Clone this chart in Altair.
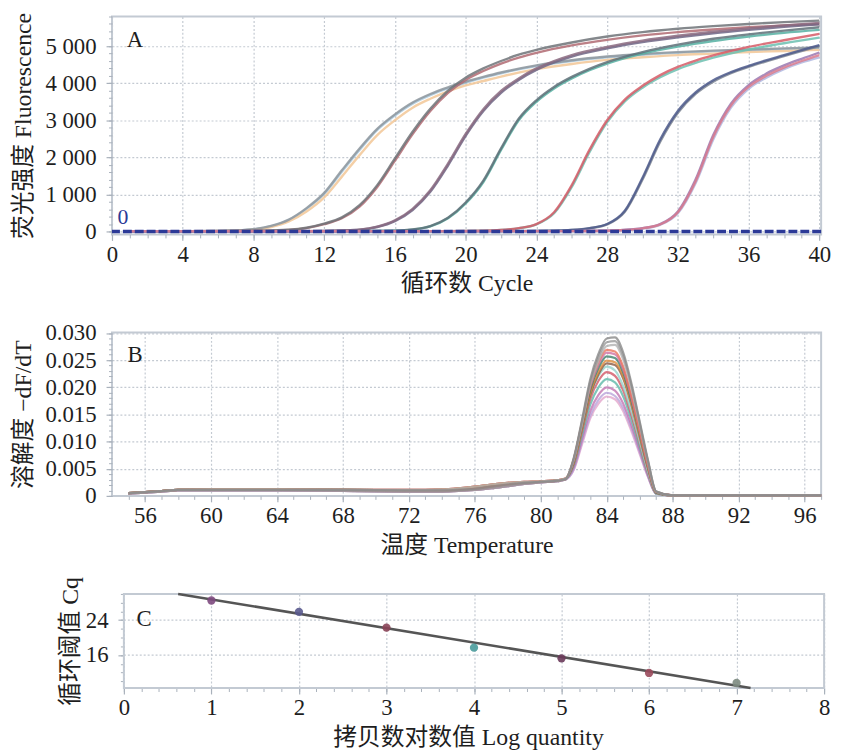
import altair as alt
import pandas as pd

# ======================= DATA =======================
# ---- Panel A : amplification curves (fluorescence vs cycle) ----
A_G1_CYCLES = [1, 5, 7, 8, 9, 10, 11, 12, 13, 14, 15, 16, 17, 18, 19, 20, 21, 22, 24, 26, 28, 30, 32, 34, 36, 38, 40]
A_G1_LIGHTBLUE = [5, 8, 25, 55, 140, 310, 610, 1010, 1610, 2200, 2740, 3130, 3450, 3680, 3860, 4010, 4150, 4270, 4460, 4600, 4700, 4770, 4820, 4860, 4890, 4920, 4950]
A_G1_GREY = [5, 8, 28, 60, 150, 320, 630, 1040, 1650, 2240, 2770, 3160, 3480, 3710, 3890, 4040, 4170, 4290, 4480, 4620, 4720, 4790, 4840, 4880, 4910, 4940, 4970]
A_G1_ORANGE = [5, 8, 20, 45, 120, 270, 540, 920, 1480, 2060, 2600, 3000, 3340, 3580, 3780, 3940, 4060, 4180, 4380, 4520, 4630, 4700, 4760, 4800, 4840, 4870, 4900]

A_G2_CYCLES = [1, 8, 10, 11, 12, 13, 14, 15, 16, 17, 18, 19, 20, 21, 22, 23, 24, 26, 28, 30, 32, 34, 36, 38, 40]
A_G2_ROSE = [5, 12, 40, 90, 195, 355, 670, 1200, 1910, 2625, 3250, 3740, 4090, 4330, 4530, 4690, 4820, 5020, 5170, 5290, 5380, 5450, 5510, 5560, 5600]
A_G2_DARK = [5, 12, 45, 100, 210, 380, 710, 1250, 1970, 2690, 3310, 3800, 4150, 4400, 4600, 4770, 4900, 5100, 5260, 5380, 5470, 5540, 5600, 5650, 5690]

A_G3_CYCLES = [1, 11, 13, 14, 15, 16, 17, 18, 19, 20, 21, 22, 23, 24, 25, 26, 28, 30, 32, 34, 36, 38, 40]
A_G3_PURPLE = [5, 10, 25, 45, 120, 280, 580, 1070, 1780, 2580, 3250, 3740, 4090, 4360, 4560, 4720, 4940, 5110, 5240, 5350, 5440, 5520, 5590]
A_G3_MAUVE = [5, 10, 28, 50, 130, 300, 610, 1110, 1830, 2630, 3300, 3790, 4130, 4400, 4600, 4760, 4980, 5150, 5280, 5390, 5480, 5560, 5630]

A_G4_CYCLES = [1, 14, 16, 17, 18, 19, 20, 21, 22, 23, 24, 25, 26, 27, 28, 30, 32, 34, 36, 38, 40]
A_G4_TEAL = [5, 10, 20, 50, 135, 355, 755, 1335, 2200, 3000, 3500, 3860, 4130, 4350, 4530, 4800, 4990, 5140, 5260, 5360, 5440]
A_G4_SLATE = [5, 10, 22, 55, 145, 370, 780, 1370, 2240, 3040, 3540, 3900, 4170, 4390, 4570, 4840, 5040, 5200, 5320, 5420, 5510]

A_G5_CYCLES = [1, 19, 21, 22, 23, 24, 25, 26, 27, 28, 29, 30, 31, 32, 33, 34, 36, 38, 40]
A_G5_RED = [5, 10, 20, 40, 90, 200, 520, 1250, 2200, 3000, 3560, 3930, 4220, 4440, 4610, 4750, 4980, 5160, 5330]
A_G5_TEAL = [5, 10, 20, 38, 85, 190, 490, 1200, 2140, 2950, 3510, 3880, 4160, 4380, 4550, 4690, 4910, 5080, 5230]

A_G6_CYCLES = [1, 23, 25, 26, 27, 28, 29, 30, 31, 32, 33, 34, 35, 36, 38, 40]
A_G6_NAVY = [5, 10, 20, 40, 90, 200, 560, 1450, 2480, 3250, 3750, 4080, 4300, 4470, 4760, 5030]
A_G6_GREY = [5, 10, 20, 38, 85, 190, 530, 1400, 2420, 3200, 3710, 4040, 4270, 4440, 4730, 5000]

A_G7_CYCLES = [1, 26, 28, 29, 30, 31, 32, 33, 34, 35, 36, 37, 38, 39, 40]
A_G7_PINK = [5, 10, 20, 40, 85, 190, 520, 1350, 2550, 3400, 3900, 4200, 4420, 4600, 4760]
A_G7_LAVENDER = [5, 10, 20, 38, 80, 180, 490, 1300, 2480, 3340, 3850, 4150, 4380, 4560, 4700]
A_G7_PURPLE = [5, 10, 20, 42, 90, 200, 540, 1400, 2600, 3450, 3950, 4260, 4480, 4660, 4830]

A_THRESHOLD = [0]
A_X_TICKS = [0, 4, 8, 12, 16, 20, 24, 28, 32, 36, 40]
A_Y_TICKS = [0, 1000, 2000, 3000, 4000, 5000]

# ---- Panel B : melt curves (-dF/dT vs temperature) ----
B_TEMP = [55, 56, 57, 58, 60, 64, 68, 72, 74, 75, 76, 77, 78, 79, 80, 81, 81.5,
          82, 82.5, 83, 83.5, 84, 84.5, 85, 85.5, 86, 86.5, 87, 88, 97]
B_BASE_1 = [0.0005, 0.0007, 0.0009, 0.0011, 0.0011, 0.0011, 0.0011, 0.0010, 0.0010, 0.0011, 0.0013, 0.0017, 0.0021, 0.0024, 0.0026, 0.0028, 0.0031]
B_BASE_2 = [0.0004, 0.0006, 0.0008, 0.0010, 0.0010, 0.0010, 0.0009, 0.0008, 0.0008, 0.0009, 0.0011, 0.0014, 0.0018, 0.0022, 0.0025, 0.0027, 0.0030]
B_BASE_3 = [0.0005, 0.0007, 0.0009, 0.0011, 0.0012, 0.0012, 0.0011, 0.0011, 0.0012, 0.0014, 0.0017, 0.0021, 0.0024, 0.0026, 0.0027, 0.0029, 0.0032]
B_TAIL = [0.0001, 0.0001]
B_PEAK_GREY1 = [0.0070, 0.0140, 0.0215, 0.0262, 0.0290, 0.0292, 0.0264, 0.0207, 0.0137, 0.0066, 0.0008]
B_PEAK_GREY2 = [0.0068, 0.0137, 0.0210, 0.0256, 0.0283, 0.0285, 0.0258, 0.0202, 0.0134, 0.0064, 0.0008]
B_PEAK_GREY3 = [0.0067, 0.0133, 0.0205, 0.0249, 0.0276, 0.0278, 0.0251, 0.0197, 0.0130, 0.0063, 0.0008]
B_PEAK_SALMON = [0.0068, 0.0135, 0.0205, 0.0247, 0.0269, 0.0266, 0.0238, 0.0184, 0.0120, 0.0057, 0.0007]
B_PEAK_PINK = [0.0066, 0.0133, 0.0201, 0.0242, 0.0264, 0.0261, 0.0233, 0.0180, 0.0118, 0.0056, 0.0007]
B_PEAK_GREEN = [0.0065, 0.0129, 0.0196, 0.0236, 0.0257, 0.0254, 0.0227, 0.0175, 0.0115, 0.0054, 0.0006]
B_PEAK_ORANGE = [0.0063, 0.0125, 0.0190, 0.0229, 0.0249, 0.0246, 0.0220, 0.0170, 0.0111, 0.0053, 0.0006]
B_PEAK_BROWN = [0.0061, 0.0123, 0.0186, 0.0224, 0.0244, 0.0241, 0.0216, 0.0167, 0.0109, 0.0051, 0.0006]
B_PEAK_LTEAL = [0.0062, 0.0124, 0.0186, 0.0221, 0.0238, 0.0231, 0.0202, 0.0155, 0.0100, 0.0045, 0.0005]
B_PEAK_RED = [0.0059, 0.0119, 0.0178, 0.0212, 0.0228, 0.0221, 0.0194, 0.0148, 0.0096, 0.0043, 0.0005]
B_PEAK_TEAL = [0.0056, 0.0112, 0.0168, 0.0200, 0.0215, 0.0209, 0.0183, 0.0140, 0.0090, 0.0041, 0.0004]
B_PEAK_PURPLE = [0.0052, 0.0104, 0.0156, 0.0186, 0.0200, 0.0194, 0.0170, 0.0130, 0.0084, 0.0038, 0.0004]
B_PEAK_LAVENDER = [0.0049, 0.0099, 0.0148, 0.0177, 0.0190, 0.0184, 0.0162, 0.0124, 0.0080, 0.0036, 0.0004]
B_PEAK_LPINK = [0.0048, 0.0095, 0.0143, 0.0170, 0.0183, 0.0178, 0.0156, 0.0119, 0.0077, 0.0035, 0.0004]
B_X_TICKS = [56, 60, 64, 68, 72, 76, 80, 84, 88, 92, 96]
B_Y_TICKS = [0, 0.005, 0.010, 0.015, 0.020, 0.025, 0.030]

# ---- Panel C : standard curve ----
C_LOGQ = [1, 2, 3, 4, 5, 6, 7]
C_CQ = [28.5, 25.9, 22.3, 17.7, 15.25, 11.9, 9.6]
C_FIT_X = [0.62, 7.16]
C_FIT_Y = [30.0, 8.45]
C_X_TICKS = [0, 1, 2, 3, 4, 5, 6, 7, 8]
C_Y_TICKS = [16, 24]

# axis ranges
A_X_DOMAIN = [0, 40.1]
A_Y_DOMAIN = [-80, 5800]
B_X_DOMAIN = [54, 97]
B_Y_DOMAIN = [0, 0.0301]
C_X_DOMAIN = [-0.136, 8]
C_Y_DOMAIN = [8.45, 30]
C_FRAME_X = [0, 8]

# ======================= STYLE =======================
SERIF = "'Liberation Serif', 'Times New Roman', 'Noto Sans CJK SC', serif"
LABEL_FONT = "Liberation Serif"
TEXT = "#1e1e1e"
GRID = "#c4cad2"
TICK = "#a9b1bb"
FRAME = "#c3cad3"
BLUE = "#2c3a97"
TICK_FS = 23
TITLE_FS = 24

A_CURVES = [
    ("g1-lightblue", A_G1_CYCLES, A_G1_LIGHTBLUE, "#a9c8dc"),
    ("g1-orange", A_G1_CYCLES, A_G1_ORANGE, "#f2c796"),
    ("g1-grey", A_G1_CYCLES, A_G1_GREY, "#8e979e"),
    ("g2-rose", A_G2_CYCLES, A_G2_ROSE, "#b06a72"),
    ("g2-dark", A_G2_CYCLES, A_G2_DARK, "#6f7378"),
    ("g3-purple", A_G3_CYCLES, A_G3_PURPLE, "#6d6585"),
    ("g3-mauve", A_G3_CYCLES, A_G3_MAUVE, "#8a6a80"),
    ("g4-teal", A_G4_CYCLES, A_G4_TEAL, "#56b0a2"),
    ("g4-slate", A_G4_CYCLES, A_G4_SLATE, "#5e7078"),
    ("g5-teal", A_G5_CYCLES, A_G5_TEAL, "#6cc0b0"),
    ("g5-red", A_G5_CYCLES, A_G5_RED, "#d65a66"),
    ("g6-grey", A_G6_CYCLES, A_G6_GREY, "#7a8290"),
    ("g6-navy", A_G6_CYCLES, A_G6_NAVY, "#4e5a8c"),
    ("g7-lavender", A_G7_CYCLES, A_G7_LAVENDER, "#b0b8e0"),
    ("g7-purple", A_G7_CYCLES, A_G7_PURPLE, "#9a78b0"),
    ("g7-pink", A_G7_CYCLES, A_G7_PINK, "#d87a8e"),
]

B_CURVES = [
    ("lpink", B_BASE_2, B_PEAK_LPINK, "#e2a6cc"),
    ("lavender", B_BASE_2, B_PEAK_LAVENDER, "#b9a4da"),
    ("purple", B_BASE_3, B_PEAK_PURPLE, "#c274b2"),
    ("teal", B_BASE_1, B_PEAK_TEAL, "#5cb8a8"),
    ("red", B_BASE_3, B_PEAK_RED, "#d25866"),
    ("lteal", B_BASE_2, B_PEAK_LTEAL, "#94d2ca"),
    ("brown", B_BASE_1, B_PEAK_BROWN, "#8a5a44"),
    ("orange", B_BASE_3, B_PEAK_ORANGE, "#de8c3c"),
    ("green", B_BASE_1, B_PEAK_GREEN, "#3f7f6a"),
    ("pink", B_BASE_2, B_PEAK_PINK, "#d072a2"),
    ("salmon", B_BASE_1, B_PEAK_SALMON, "#ea745c"),
    ("grey3", B_BASE_3, B_PEAK_GREY3, "#b2b2b2"),
    ("grey2", B_BASE_2, B_PEAK_GREY2, "#9a9a9a"),
    ("grey1", B_BASE_1, B_PEAK_GREY1, "#8a8a8a"),
]

C_POINT_COLORS = ["#7e4a80", "#5a5a8e", "#8a4458", "#4a9c9c", "#6a3a5a", "#9a4a5c", "#7c8a80"]


def major(orient, values, title, label_expr=None, grid=True, title_padding=10, offset=None):
    kw = dict(orient=orient, values=values, title=title, grid=grid,
              gridColor=GRID, gridDash=[2, 2], gridWidth=1.2,
              domain=False, ticks=True, tickSize=6, tickColor=TICK, tickWidth=1.2,
              labelFont=LABEL_FONT, labelFontSize=TICK_FS, labelColor=TEXT,
              labelPadding=3 if orient == "bottom" else 10,
              labelFlush=False, labelOverlap=False, labelBound=False,
              titleFont=SERIF, titleFontSize=TITLE_FS, titleFontWeight="normal",
              titleColor=TEXT, titlePadding=title_padding)
    if label_expr:
        kw["labelExpr"] = label_expr
    if offset is not None:
        kw["offset"] = offset
    return alt.Axis(**kw)


def minor(orient, values, offset=None):
    kw = dict(orient=orient, values=values, title=None, grid=False, labels=False,
              domain=False, ticks=True, tickSize=3.5, tickColor=TICK, tickWidth=1)
    if offset is not None:
        kw["offset"] = offset
    return alt.Axis(**kw)


# ======================= PANEL A =======================
a_rows = []
for name, cyc, vals, _ in A_CURVES:
    for c, v in zip(cyc, vals):
        a_rows.append({"curve": name, "cycle": c, "value": v})
a_df = pd.DataFrame(a_rows)
AXS = alt.Scale(domain=A_X_DOMAIN, nice=False, zero=False)
AYS = alt.Scale(domain=A_Y_DOMAIN, nice=False, zero=False)

a_lines = alt.Chart(a_df).mark_line(strokeWidth=2.4, opacity=0.85, interpolate="monotone").encode(
    x=alt.X("cycle:Q", scale=AXS, axis=major("bottom", A_X_TICKS, "循环数 Cycle", title_padding=6)),
    y=alt.Y("value:Q", scale=AYS, axis=major("left", A_Y_TICKS, "荧光强度 Fluorescence",
                                               label_expr="replace(format(datum.value, ','), ',', ' ')",
                                               title_padding=10)),
    color=alt.Color("curve:N", scale=alt.Scale(domain=[c[0] for c in A_CURVES],
                                               range=[c[3] for c in A_CURVES]), legend=None),
)
a_thr = alt.Chart(pd.DataFrame({"value": A_THRESHOLD})).mark_rule(
    color=BLUE, strokeWidth=3.5, strokeDash=[9, 3]).encode(
    y=alt.Y("value:Q", scale=AYS, axis=None))
a_letter = alt.Chart(pd.DataFrame({"t": ["A"], "x": [1.3], "y": [5170]})).mark_text(
    font=LABEL_FONT, fontSize=23, color=TEXT, align="center", baseline="middle").encode(
    x=alt.X("x:Q", scale=AXS, axis=None), y=alt.Y("y:Q", scale=AYS, axis=None), text="t:N")
a_zero = alt.Chart(pd.DataFrame({"t": ["0"], "x": [0.62], "y": [380]})).mark_text(
    font=LABEL_FONT, fontSize=22, color=BLUE, align="center", baseline="middle").encode(
    x=alt.X("x:Q", scale=AXS, axis=None), y=alt.Y("y:Q", scale=AYS, axis=None), text="t:N")
a_minor = alt.Chart(pd.DataFrame({"x": [A_X_DOMAIN[0]], "y": [A_Y_DOMAIN[0]]})).mark_point(opacity=0).encode(
    x=alt.X("x:Q", scale=AXS, axis=minor("bottom", list(range(0, 41)))),
    y=alt.Y("y:Q", scale=AYS, axis=minor("left", list(range(0, 5801, 200)))))
panel_a = alt.layer(a_lines, a_thr, a_letter, a_zero, a_minor).resolve_axis(
    x="independent", y="independent").properties(width=716, height=220)

# ======================= PANEL B =======================
b_rows = []
for name, base, peak, _ in B_CURVES:
    vals = base + peak + B_TAIL
    for t, v in zip(B_TEMP, vals):
        b_rows.append({"curve": name, "temp": t, "d": v})
b_df = pd.DataFrame(b_rows)
BXS = alt.Scale(domain=B_X_DOMAIN, nice=False, zero=False)
BYS = alt.Scale(domain=B_Y_DOMAIN, nice=False, zero=False)
b_lines = alt.Chart(b_df).mark_line(strokeWidth=2.2, opacity=0.8, interpolate="monotone").encode(
    x=alt.X("temp:Q", scale=BXS, axis=major("bottom", B_X_TICKS, "温度 Temperature", title_padding=6)),
    y=alt.Y("d:Q", scale=BYS, axis=major("left", B_Y_TICKS, "溶解度 −dF/dT",
                                         label_expr="datum.value == 0 ? '0' : format(datum.value, '.3f')",
                                         title_padding=10)),
    color=alt.Color("curve:N", scale=alt.Scale(domain=[c[0] for c in B_CURVES],
                                               range=[c[3] for c in B_CURVES]), legend=None),
)
b_letter = alt.Chart(pd.DataFrame({"t": ["B"], "x": [55.4], "y": [0.026]})).mark_text(
    font=LABEL_FONT, fontSize=23, color=TEXT, align="center", baseline="middle").encode(
    x=alt.X("x:Q", scale=BXS, axis=None), y=alt.Y("y:Q", scale=BYS, axis=None), text="t:N")
b_minor = alt.Chart(pd.DataFrame({"x": [B_X_DOMAIN[0]], "y": [B_Y_DOMAIN[0]]})).mark_point(opacity=0).encode(
    x=alt.X("x:Q", scale=BXS, axis=minor("bottom", list(range(55, 98)))),
    y=alt.Y("y:Q", scale=BYS, axis=minor("left", [i / 1000 for i in range(0, 31)])))
panel_b = alt.layer(b_lines, b_letter, b_minor).resolve_axis(
    x="independent", y="independent").properties(width=716, height=165)

# ======================= PANEL C =======================
CXS = alt.Scale(domain=C_X_DOMAIN, nice=False, zero=False)
CYS = alt.Scale(domain=C_Y_DOMAIN, nice=False, zero=False)
c_frame = alt.Chart(pd.DataFrame({"x": [C_FRAME_X[0]], "x2": [C_FRAME_X[1]],
                                  "y": [C_Y_DOMAIN[0]], "y2": [C_Y_DOMAIN[1]]})).mark_rect(
    fillOpacity=0, stroke=FRAME, strokeWidth=2).encode(
    x=alt.X("x:Q", scale=CXS, axis=None), x2="x2:Q",
    y=alt.Y("y:Q", scale=CYS, axis=None), y2="y2:Q")
c_grid = alt.Chart(pd.DataFrame({"y": C_Y_TICKS, "x": [C_FRAME_X[0]] * len(C_Y_TICKS),
                                 "x2": [C_FRAME_X[1]] * len(C_Y_TICKS)})).mark_rule(
    color=GRID, strokeWidth=1.2, strokeDash=[2, 2]).encode(
    x=alt.X("x:Q", scale=CXS, axis=None), x2="x2:Q", y=alt.Y("y:Q", scale=CYS, axis=None))
c_fit = alt.Chart(pd.DataFrame({"x": C_FIT_X, "y": C_FIT_Y})).mark_line(
    color="#555555", strokeWidth=2.6).encode(
    x=alt.X("x:Q", scale=CXS, axis=None), y=alt.Y("y:Q", scale=CYS, axis=None))
c_points = alt.Chart(pd.DataFrame({"x": C_LOGQ, "y": C_CQ, "k": [str(v) for v in C_LOGQ]})).mark_circle(
    size=70, opacity=0.9).encode(
    x=alt.X("x:Q", scale=CXS, axis=major("bottom", C_X_TICKS, "拷贝数对数值 Log quantity", title_padding=6)),
    y=alt.Y("y:Q", scale=CYS, axis=major("left", C_Y_TICKS, "循环阈值 Cq", grid=False,
                                         title_padding=3, offset=-12)),
    color=alt.Color("k:N", scale=alt.Scale(domain=[str(v) for v in C_LOGQ], range=C_POINT_COLORS), legend=None),
)
c_letter = alt.Chart(pd.DataFrame({"t": ["C"], "x": [0.23], "y": [24.3]})).mark_text(
    font=LABEL_FONT, fontSize=23, color=TEXT, align="center", baseline="middle").encode(
    x=alt.X("x:Q", scale=CXS, axis=None), y=alt.Y("y:Q", scale=CYS, axis=None), text="t:N")
c_minor = alt.Chart(pd.DataFrame({"x": [C_FRAME_X[0]], "y": [C_Y_DOMAIN[0]]})).mark_point(opacity=0).encode(
    x=alt.X("x:Q", scale=CXS, axis=minor("bottom", [i / 5 for i in range(0, 41)])),
    y=alt.Y("y:Q", scale=CYS, axis=minor("left", list(range(10, 31, 2)), offset=-12)))
panel_c = alt.layer(c_frame, c_grid, c_fit, c_points, c_letter, c_minor).resolve_axis(
    x="independent", y="independent").properties(
    width=719, height=95, view=alt.ViewBackground(stroke="transparent"))

chart = alt.vconcat(panel_a, panel_b, panel_c, spacing=99, bounds="flush").resolve_scale(
    color="independent"
).properties(
    padding={"left": 2, "top": -1, "right": 2, "bottom": 0}
).configure(font=SERIF).configure_view(stroke=FRAME, strokeWidth=2)

chart.save("out.html", embed_options={"renderer": "svg", "actions": False})
